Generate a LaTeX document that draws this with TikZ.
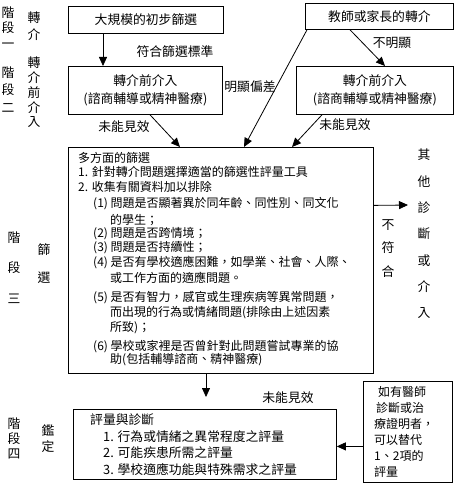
\documentclass[tikz,border=0pt]{standalone}
\usepackage{fontspec}
\setmainfont{Noto Sans CJK TC}
\usetikzlibrary{arrows.meta}
\newcommand\fsbig{\fontsize{12.8}{15}\selectfont}
\newcommand\fsmid{\fontsize{12}{15}\selectfont}
\tikzset{
  box/.style={draw, line width=0.8pt, inner sep=0pt, anchor=north west, align=center, font=\fsbig},
  txt/.style={inner sep=0pt, anchor=west, font=\fsmid},
  lbl/.style={inner sep=0pt, font=\fsbig},
  vt/.style={inner sep=0pt, align=center},
  arr/.style={line width=0.8pt, -{Triangle[length=9pt,width=8pt]}}
}
\begin{document}
\begin{tikzpicture}[x=1pt,y=-1pt]
\useasboundingbox (0,0) rectangle (455,489);

% boxes
\node[box, minimum width=155pt, minimum height=27pt] (A) at (68,6) {大規模的初步篩選};
\node[box, minimum width=154pt, minimum height=48pt, font={\fontsize{12.8}{18}\selectfont}] (B) at (68,66) {轉介前介入\\(諮商輔導或精神醫療)};
\node[box, minimum width=148pt, minimum height=26pt] (C) at (305,3) {教師或家長的轉介};
\node[box, minimum width=157pt, minimum height=48pt, font={\fontsize{12.8}{18}\selectfont}] (D) at (296,66) {轉介前介入\\(諮商輔導或精神醫療)};
\node[box, minimum width=305pt, minimum height=226pt] (M) at (68,147) {};
\node[box, minimum width=263pt, minimum height=70pt] (E) at (73,409) {};
\node[box, minimum width=89pt, minimum height=101pt] (F) at (363,381) {};

% main box text
\node[txt] (m0) at (78,158) {多方面的篩選};
\node[txt] (m1) at (78,172) {1. 針對轉介問題選擇適當的篩選性評量工具};
\node[txt] (m2) at (78,187) {2. 收集有關資料加以排除};
\node[txt] (m3) at (93,204) {(1) 問題是否顯著異於同年齡、同性別、同文化};
\node[txt] (m4) at (110,220) {的學生；};
\node[txt] (m5) at (93,234) {(2) 問題是否跨情境；};
\node[txt] (m6) at (93,248) {(3) 問題是否持續性；};
\node[txt] (m7) at (93,263) {(4) 是否有學校適應困難，如學業、社會、人際、};
\node[txt] (m8) at (110,278) {或工作方面的適應問題。};
\node[txt] (m9) at (93,298) {(5) 是否有智力，感官或生理疾病等異常問題，};
\node[txt] (m10) at (110,313) {而出現的行為或情緒問題(排除由上述因素};
\node[txt] (m11) at (110,328) {所致)；};
\node[txt] (m12) at (93,347) {(6) 學校或家裡是否曾針對此問題嘗試專業的協};
\node[txt] (m13) at (110,360) {助(包括輔導諮商、精神醫療)};

% E box text
\node[txt, font=\fsbig] (e0) at (90,420) {評量與診斷};
\node[txt, font=\fsbig] (e1) at (103,437) {1. 行為或情緒之異常程度之評量};
\node[txt, font=\fsbig] (e2) at (103,453) {2. 可能疾患所需之評量};
\node[txt, font=\fsbig] (e3) at (103,470) {3. 學校適應功能與特殊需求之評量};

% F box text
\node[txt, align=left, font={\fontsize{12}{16}\selectfont}] (f0) at (374,432) {\hspace{4pt}如有醫師\\\hspace{2pt}診斷或治\\療證明者，\\可以替代\\1、2項的\\評量};

% side labels
\node[vt, font={\fontsize{12.8}{15.5}\selectfont}] (s1) at (8,27.5) {階\\段\\一};
\node[vt, font={\fontsize{12.8}{17}\selectfont}] (s2) at (34,26.5) {轉\\介};
\node[vt, font={\fontsize{12.8}{17.5}\selectfont}] (s3) at (8,89.5) {階\\段\\二};
\node[vt, font={\fontsize{12.8}{14.75}\selectfont}] (s4) at (34,92.5) {轉\\介\\前\\介\\入};
\node[vt, font={\fontsize{12.8}{30.5}\selectfont}] (s5) at (14,267.5) {階\\段\\三};
\node[vt, font={\fontsize{12.8}{28}\selectfont}] (s6) at (44,264) {篩\\選};
\node[vt, font={\fontsize{12.8}{15}\selectfont}] (s7) at (14,438) {階\\段\\四};
\node[vt, font={\fontsize{12.8}{16}\selectfont}] (s8) at (48,439) {鑑\\定};
\node[vt, font={\fontsize{12.8}{26.3}\selectfont}] (s9) at (424,234) {其\\他\\診\\斷\\或\\介\\入};
\node[vt, font={\fontsize{12.8}{23.5}\selectfont}] (s10) at (388,248.5) {不\\符\\合};

% connector labels
\node[lbl] (l1) at (175,52) {符合篩選標準};
\node[lbl] (l2) at (124,127) {未能見效};
\node[lbl] (l3) at (250,87) {明顯偏差};
\node[lbl] (l4) at (392,43) {不明顯};
\node[lbl] (l5) at (345,125) {未能見效};
\node[lbl] (l6) at (288,398) {未能見效};

% free arrow ends
\coordinate (o1) at (408,205);
\coordinate (e9) at (206,397);

% connectors
\draw[arr] ([xshift=35pt]A.south west) -- ([xshift=35pt]B.north west);
\draw[arr] ([xshift=82pt]B.south west) -- ([xshift=112pt]M.north west);
\draw[arr] ([xshift=2pt]C.south west) -- ([xshift=176pt]M.north west);
\draw[arr] ([xshift=45pt]C.south west) -- ([xshift=89pt]D.north west);
\draw[arr] ([xshift=26pt]D.south west) -- ([xshift=224pt]M.north west);
\draw[arr] ([yshift=55pt]M.east) -- (o1);
\draw[arr] ([xshift=138pt]M.south west) -- (e9);
\draw[arr] ([yshift=-14.5pt]F.west) -- ([yshift=-14.5pt]F.west -| E.east);
\end{tikzpicture}
\end{document}
